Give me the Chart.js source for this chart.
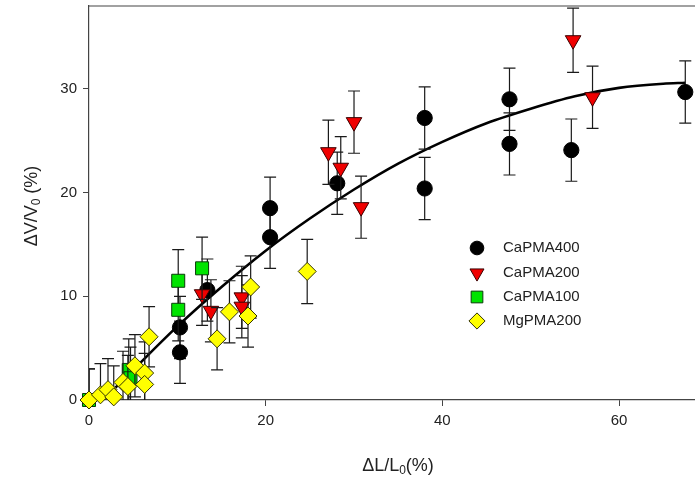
<!DOCTYPE html>
<html>
<head>
<meta charset="utf-8">
<script src="https://cdn.jsdelivr.net/npm/chart.js@4/dist/chart.umd.min.js"></script>
<style>
  html, body { margin: 0; padding: 0; background: #fff; overflow: hidden; }
  #wrap { width: 695px; height: 484px; }
</style>
</head>
<body>
<div id="wrap"><canvas id="chart"></canvas></div>
<script>
const seriesNames = ['CaPMA400', 'CaPMA200', 'CaPMA100', 'MgPMA200'];

const ca400X = [10.3, 10.3, 13.4, 20.5, 20.5, 28.1, 38.0, 38.0, 47.6, 47.6, 54.6, 67.5];
const ca400Y = [7.0, 4.6, 10.6, 18.5, 15.7, 20.9, 27.2, 20.4, 29.0, 24.7, 24.1, 29.7];
const ca400Err = [3, 3, 3, 3, 3, 3, 3, 3, 3, 3, 3, 3];

const ca200X = [12.8, 13.8, 17.3, 17.3, 27.1, 28.5, 30.0, 30.8, 54.8, 57.0];
const ca200Y = [10.2, 8.6, 9.9, 9.0, 23.9, 22.4, 26.8, 18.6, 34.7, 29.2];
const ca200Err = [3, 3, 3, 3, 3.1, 3, 3, 3, 3.1, 3];

const ca100X = [0, 4.5, 4.7, 10.1, 10.1, 12.8];
const ca100Y = [0, 2.9, 2.1, 11.5, 8.7, 12.7];
const ca100Err = [3, 3, 3, 3, 3, 3];

const mg200X = [0, 1.3, 2.15, 2.8, 3.85, 4.4, 5.2, 6.3, 6.3, 6.8, 14.5, 15.9, 18.0, 18.3, 24.7];
const mg200Y = [0, 0.5, 1.0, 0.3, 1.7, 1.3, 3.3, 2.6, 1.5, 6.1, 5.9, 8.5, 8.1, 10.9, 12.4];
const mg200Err = [3, 3, 3, 3, 3, 3, 3, 3, 3, 2.9, 3, 3, 3, 3, 3.1];

// regression curve
const fitX = [3, 5, 10, 15, 20, 25, 30, 35, 40, 45, 50, 55, 60, 65, 67.5];
const fitY = [1.2, 2.9, 7.1, 10.9, 14.4, 17.5, 20.3, 22.8, 24.9, 26.7, 28.1, 29.3, 30.1, 30.5, 30.6];

const xTicks = [0, 20, 40, 60];
const yTicks = [0, 10, 20, 30];

const FONT = "'Liberation Sans', Arial, sans-serif";

function points(xs, ys) {
  return xs.map((x, i) => ({ x, y: ys[i] }));
}

const markerStyles = [
  { pointStyle: 'circle', rotation: 0, radius: 7.6, fill: '#000000', stroke: '#000000' },
  { pointStyle: 'triangle', rotation: 180, radius: 9, fill: '#f00000', stroke: '#3a0000' },
  { pointStyle: 'rect', rotation: 0, radius: 9.2, fill: '#00e400', stroke: '#0a3a0a' },
  { pointStyle: 'rectRot', rotation: 0, radius: 9, fill: '#ffff00', stroke: '#333300' },
];

function markerDataset(i, xs, ys, errs, order) {
  const m = markerStyles[i];
  return {
    label: seriesNames[i],
    data: points(xs, ys),
    errors: errs,
    pointStyle: m.pointStyle,
    rotation: m.rotation,
    pointRadius: m.radius,
    pointBackgroundColor: m.fill,
    pointBorderColor: m.stroke,
    pointBorderWidth: 1,
    showLine: false,
    clip: false,
    order,
  };
}

const errorBars = {
  id: 'errorBars',
  beforeDatasetDraw(chart, args) {
    const ds = chart.data.datasets[args.index];
    if (!ds.errors) return;
    const { ctx, chartArea, scales: { x, y } } = chart;
    ctx.save();
    ctx.beginPath();
    ctx.rect(chartArea.left, chartArea.top, chartArea.right - chartArea.left, chartArea.bottom - chartArea.top);
    ctx.clip();
    ctx.strokeStyle = '#1a1a1a';
    ctx.lineWidth = 1.2;
    ds.data.forEach((p, i) => {
      const e = ds.errors[i];
      const px = x.getPixelForValue(p.x);
      const top = y.getPixelForValue(p.y + e);
      const bot = y.getPixelForValue(p.y - e);
      ctx.beginPath();
      ctx.moveTo(px, top);
      ctx.lineTo(px, bot);
      ctx.moveTo(px - 6, top);
      ctx.lineTo(px + 6, top);
      ctx.moveTo(px - 6, bot);
      ctx.lineTo(px + 6, bot);
      ctx.stroke();
    });
    ctx.restore();
  },
};

function drawParts(ctx, parts, cx, cy) {
  let total = 0;
  parts.forEach((p) => {
    ctx.font = `${p.size}px ${FONT}`;
    total += ctx.measureText(p.t).width;
  });
  let x = cx - total / 2;
  parts.forEach((p) => {
    ctx.font = `${p.size}px ${FONT}`;
    ctx.fillText(p.t, x, cy + (p.dy || 0));
    x += ctx.measureText(p.t).width;
  });
}

const decorations = {
  id: 'decorations',
  afterDraw(chart) {
    const { ctx, chartArea: { left, top, right } } = chart;
    ctx.save();
    // top frame line
    ctx.strokeStyle = '#444';
    ctx.lineWidth = 1.2;
    ctx.beginPath();
    ctx.moveTo(left, top);
    ctx.lineTo(right, top);
    ctx.stroke();

    // axis titles
    ctx.fillStyle = '#222';
    ctx.textBaseline = 'middle';
    ctx.textAlign = 'left';
    drawParts(ctx, [
      { t: '\u0394L/L', size: 18 },
      { t: '0', size: 12, dy: 5 },
      { t: '(%)', size: 18 },
    ], 398, 466);

    ctx.save();
    ctx.translate(32, 206);
    ctx.rotate(-Math.PI / 2);
    drawParts(ctx, [
      { t: '\u0394V/V', size: 18 },
      { t: '0', size: 12, dy: 5 },
      { t: ' (%)', size: 18 },
    ], 0, 0);
    ctx.restore();

    // legend
    const rows = [248, 273, 297, 321];
    seriesNames.forEach((name, i) => {
      const m = markerStyles[i];
      ctx.fillStyle = m.fill;
      ctx.strokeStyle = m.stroke;
      ctx.lineWidth = 1;
      Chart.helpers.drawPoint(ctx, {
        pointStyle: m.pointStyle,
        rotation: m.rotation,
        radius: m.radius * 0.9,
        borderWidth: 1,
      }, 477, rows[i]);
      ctx.fillStyle = '#222';
      ctx.font = `15px ${FONT}`;
      ctx.fillText(name, 503, rows[i]);
    });
    ctx.restore();
  },
};

const axisColor = '#444';

new Chart(document.getElementById('chart'), {
  type: 'scatter',
  data: {
    datasets: [
      markerDataset(0, ca400X, ca400Y, ca400Err, 4),
      markerDataset(1, ca200X, ca200Y, ca200Err, 3),
      markerDataset(2, ca100X, ca100Y, ca100Err, 2),
      markerDataset(3, mg200X, mg200Y, mg200Err, 1),
      {
        label: 'fit',
        data: points(fitX, fitY),
        showLine: true,
        pointRadius: 0,
        borderColor: '#000',
        borderWidth: 2.6,
        cubicInterpolationMode: 'monotone',
        order: 5,
      },
    ],
  },
  options: {
    responsive: true,
    maintainAspectRatio: false,
    animation: false,
    layout: { autoPadding: false, padding: { top: 6, right: 0, left: 0, bottom: 0 } },
    plugins: {
      legend: { display: false },
      tooltip: { enabled: false },
    },
    scales: {
      x: {
        type: 'linear',
        min: 0,
        max: 68.6,
        afterFit: (scale) => {
          scale.height = 84;
          scale.paddingLeft = 0;
          scale.paddingRight = 0;
        },
        afterBuildTicks: (scale) => { scale.ticks = xTicks.map((v) => ({ value: v })); },
        border: { display: true, color: axisColor, width: 1.2 },
        grid: { display: true, drawOnChartArea: false, drawTicks: true, tickLength: 6, color: axisColor },
        ticks: { color: '#222', font: { family: FONT, size: 15 }, padding: 6, maxRotation: 0 },
      },
      y: {
        type: 'linear',
        min: 0,
        max: 38,
        afterFit: (scale) => {
          scale.width = 89;
          scale.paddingTop = 0;
          scale.paddingBottom = 0;
        },
        afterBuildTicks: (scale) => { scale.ticks = yTicks.map((v) => ({ value: v })); },
        border: { display: true, color: axisColor, width: 1.2 },
        grid: { display: true, drawOnChartArea: false, drawTicks: true, tickLength: 6, color: axisColor },
        ticks: { color: '#222', font: { family: FONT, size: 15 }, padding: 6 },
      },
    },
  },
  plugins: [errorBars, decorations],
});
</script>
</body>
</html>
